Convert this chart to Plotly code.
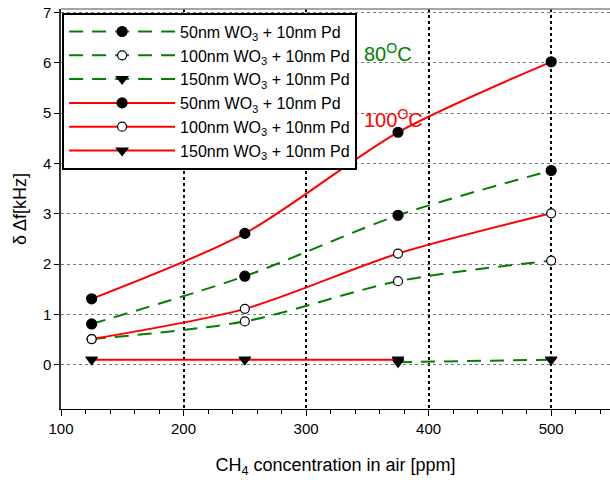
import plotly.graph_objects as go

# ---- data ----
conc = [125, 250, 375, 500]
g50 = [0.81, 1.76, 2.97, 3.86]
g100 = [0.51, 0.86, 1.66, 2.07]
g150_x = [375, 500]
g150 = [0.05, 0.10]
r50 = [1.31, 2.61, 4.62, 6.02]
r100 = [0.51, 1.11, 2.21, 3.01]
r150_x = [125, 250, 375]
r150 = [0.10, 0.10, 0.10]
labels = ["50nm WO<sub>3</sub> + 10nm Pd",
          "100nm WO<sub>3</sub> + 10nm Pd",
          "150nm WO<sub>3</sub> + 10nm Pd"]
x_ticks = [100, 200, 300, 400, 500]
y_ticks = [0, 1, 2, 3, 4, 5, 6, 7]

GREEN = "#008000"
RED = "#ff0000"
FONT = "Liberation Sans, Arial, sans-serif"

fig = go.Figure()

def add(x, y, name, color, dash, symbol, fill, grp):
    fig.add_trace(go.Scatter(
        x=x, y=y, name=name, mode="lines+markers", legendgroup=grp,
        line=dict(color=color, width=2, dash=dash, shape="spline", smoothing=0.8),
        marker=dict(symbol=symbol, size=10 if symbol != "circle" or fill == "black" else 9,
                    color=fill, line=dict(color="black", width=1.2)),
    ))

gd = "14px,9px"
add(conc, g50, labels[0], GREEN, gd, "circle", "black", "g1")
add(conc, g100, labels[1], GREEN, gd, "circle", "white", "g2")
add(g150_x, g150, labels[2], GREEN, gd, "triangle-down", "black", "g3")
add(conc, r50, labels[0], RED, "solid", "circle", "black", "r1")
add(conc, r100, labels[1], RED, "solid", "circle", "white", "r2")
add(r150_x, r150, labels[2], RED, "solid", "triangle-down", "black", "r3")

fig.add_annotation(x=346, y=6.2, text="80<sup>O</sup>C", showarrow=False,
                   xanchor="left", yanchor="middle",
                   font=dict(family=FONT, size=20, color=GREEN))
fig.add_annotation(x=346, y=4.9, text="100<sup>O</sup>C", showarrow=False,
                   xanchor="left", yanchor="middle",
                   font=dict(family=FONT, size=20, color=RED))

fig.add_shape(type="line", xref="paper", yref="paper", x0=0, x1=1, y0=1, y1=1,
              line=dict(color="#888888", width=1.5))

fig.update_layout(
    width=610, height=480,
    margin=dict(l=61, r=0, t=9, b=71),
    paper_bgcolor="white", plot_bgcolor="white",
    font=dict(family=FONT, size=15, color="black"),
    showlegend=True,
    legend=dict(x=0.002, y=0.991, xanchor="left", yanchor="top",
                bgcolor="white", bordercolor="black", borderwidth=2,
                font=dict(family=FONT, size=16, color="black"),
                itemwidth=106, tracegroupgap=0),
    xaxis=dict(range=[100, 548], tickvals=x_ticks, ticks="outside", ticklen=6,
               tickcolor="black", showline=True, linecolor="black", linewidth=1.2,
               showgrid=True, gridcolor="black", griddash="dot", gridwidth=1.5,
               zeroline=False,
               minor=dict(dtick=20, ticks="outside", ticklen=4, tickcolor="black", showgrid=False),
               title=dict(text="CH<sub>4</sub> concentration in air [ppm]",
                          font=dict(family=FONT, size=18), standoff=22),
               tickfont=dict(family=FONT, size=15)),
    yaxis=dict(range=[-0.88, 7.07], tickvals=y_ticks, ticks="outside", ticklen=5,
               tickcolor="black", showline=True, linecolor="#333333", linewidth=1.5,
               showgrid=True, gridcolor="#777777", griddash="dot", gridwidth=1,
               zeroline=False,
               title=dict(text="δ Δf[kHz]", font=dict(family=FONT, size=18), standoff=12),
               tickfont=dict(family=FONT, size=15)),
)

fig.write_html("out.html")
